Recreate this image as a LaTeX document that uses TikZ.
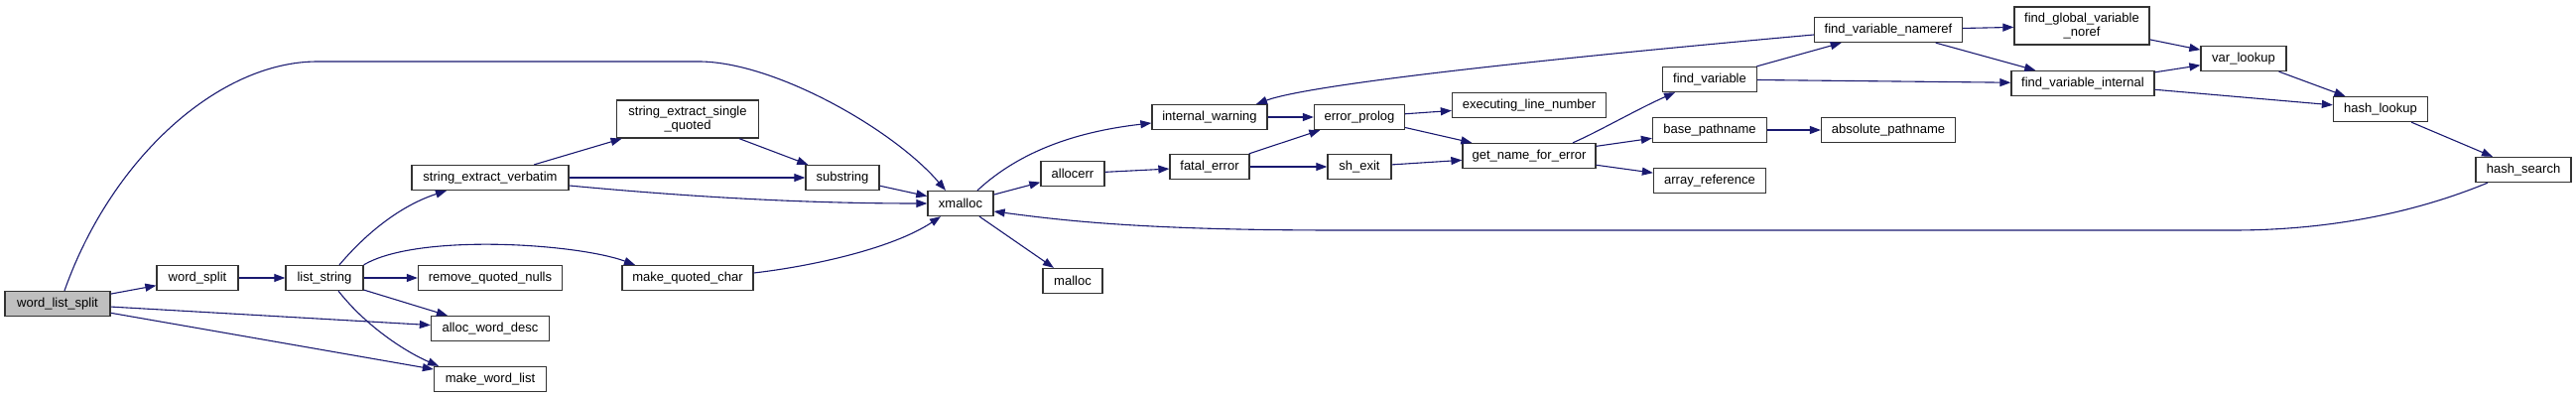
\documentclass[tikz,border=0pt]{standalone}
\usepackage{fontspec}
\setmainfont{Liberation Sans}
\usepackage{tikz}
\usetikzlibrary{arrows.meta}
\definecolor{edgecol}{HTML}{191970}
\definecolor{boxcol}{HTML}{333333}
\definecolor{rootcol}{HTML}{BFBFBF}

\begin{document}
\begin{tikzpicture}[x=1pt,y=-1pt,>={Triangle[length=11pt,width=8pt]},
  fn/.style={draw=boxcol,line width=1.3pt,fill=white,align=center,inner xsep=0pt,
    inner ysep=6pt,minimum height=25pt,font=\fontsize{13}{14}\selectfont},
  call/.style={->,edgecol,line width=1.1pt}]
  \useasboundingbox (0,0) rectangle (2596,401);
  % functions of the call graph, at pixel positions (y grows downwards)
  \node[fn,fill=rootcol,minimum width=106] (wls) at (58,306) {word\_list\_split};
  \foreach \n/\x/\y/\w/\t in {
      wsplit/199/280/82/word\_split, lstr/327/280/78/list\_string,
      rqn/494/280/145/remove\_quoted\_nulls, awd/494/331/119/alloc\_word\_desc,
      mwl/494/382/113/make\_word\_list, sev/494/179/158/string\_extract\_verbatim,
      sesq/693/120/143/string\_extract\_single\\\_quoted, substr/849/179/74/substring,
      mqc/693/280/132/make\_quoted\_char, xmalloc/968/205/66/xmalloc,
      iw/1219/118/116/internal\_warning, allocerr/1081/175/64/allocerr,
      fatal/1219/168/80/fatal\_error, malloc/1081/283/60/malloc,
      eprolog/1370/118/91/error\_prolog, shexit/1370/168/64/sh\_exit,
      eln/1541/106/155/executing\_line\_number, gnfe/1541/157/134/get\_name\_for\_error,
      fvar/1723/80/95/find\_variable, bpath/1723/131/115/base\_pathname,
      aref/1723/182/113/array\_reference, apath/1903/131/135/absolute\_pathname,
      fvn/1903/30/149/find\_variable\_nameref,
      fgvn/2098/26/136/find\_global\_variable\\\_noref,
      fvi/2099/84/144/find\_variable\_internal, vlook/2261/59/86/var\_lookup,
      hlook/2399/110/95/hash\_lookup, hsearch/2543/171/96/hash\_search}
    \node[fn,minimum width=\w] (\n) at (\x,\y) {\t};
  % straight calls
  \foreach \a/\b in {wls/wsplit,wls/awd,wls/mwl,wsplit/lstr,lstr/rqn,lstr/awd,
      sev/sesq,sev/substr,sesq/substr,substr/xmalloc,xmalloc/allocerr,xmalloc/malloc,
      allocerr/fatal,iw/eprolog,fatal/eprolog,fatal/shexit,eprolog/eln,eprolog/gnfe,
      shexit/gnfe,gnfe/bpath,gnfe/aref,bpath/apath,fvar/fvn,fvar/fvi,fvn/fgvn,
      fvn/fvi,fgvn/vlook,fvi/vlook,fvi/hlook,vlook/hlook,hlook/hsearch}
    \draw[call] (\a) -- (\b);
  % bent calls
  \draw[call] ([xshift=7]wls.north) .. controls (112,160) and (220,62) .. (320,62)
    -- (704,62) .. controls (780,62) and (900,130) .. ([xshift=-15]xmalloc.north);
  \draw[call] ([xshift=15]lstr.north) .. controls (375,228) and (410,205) .. ([xshift=-44]sev.south);
  \draw[call] (lstr.north east) .. controls (420,235) and (580,245) .. ([xshift=-53]mqc.north);
  \draw[call] ([xshift=14]lstr.south) .. controls (370,330) and (410,355) .. ([xshift=-52]mwl.north);
  \draw[call] ([yshift=-8]sev.east) .. controls (680,197) and (800,205) .. (xmalloc.west);
  \draw[call] ([yshift=5]mqc.east) .. controls (820,268) and (900,250) .. ([xshift=-20]xmalloc.south);
  \draw[call] ([xshift=17]xmalloc.north) .. controls (1030,150) and (1090,132) .. ([yshift=-6]iw.west);
  \draw[call] ([xshift=44]gnfe.north) .. controls (1610,133) and (1650,110) .. ([xshift=-35]fvar.south);
  \draw[call] ([yshift=-5]fvn.west) .. controls (1550,60) and (1320,85) .. ([xshift=47]iw.north);
  \draw[call] ([xshift=-36]hsearch.south) .. controls (2420,220) and (2330,232) .. (2250,232)
    -- (1350,232) .. controls (1150,232) and (1070,222) .. ([yshift=-8]xmalloc.east);
\end{tikzpicture}
\end{document}
